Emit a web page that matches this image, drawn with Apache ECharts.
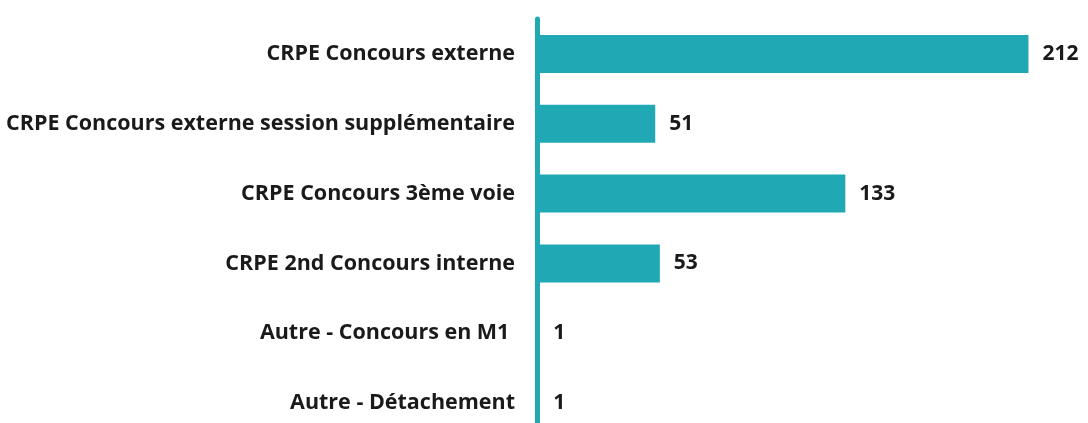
<!DOCTYPE html>
<html>
<head>
<meta charset="utf-8">
<script src="https://cdn.jsdelivr.net/npm/echarts@6/dist/echarts.min.js"></script>
<style>
  html, body { margin: 0; padding: 0; background: #fff; overflow: hidden; }
  #chart { width: 1088px; height: 450px; }
</style>
</head>
<body>
<div id="chart"></div>
<script>
  const categories = [
    'CRPE Concours externe',
    'CRPE Concours externe session supplémentaire',
    'CRPE Concours 3ème voie',
    'CRPE 2nd Concours interne',
    'Autre - Concours en M1 ',
    'Autre - Détachement'
  ];
  const values = [212, 51, 133, 53, 1, 1];

  // the chart is slightly taller than the window so the last band is cut like the original
  const chart = echarts.init(document.getElementById('chart'));

  const option = {
    animation: false,
    grid: { left: 537, top: 19, width: 510, height: 419 },
    xAxis: {
      type: 'value',
      min: 0,
      max: 220,
      show: false
    },
    yAxis: {
      type: 'category',
      data: categories,
      inverse: true,
      axisLine: { show: true, lineStyle: { color: '#20a9b5', width: 5 } },
      axisTick: { show: false },
      axisLabel: {
        margin: 22,
        color: '#1a1a1a',
        fontFamily: 'Open Sans',
        fontWeight: 'bold',
        fontSize: 21.5
      }
    },
    series: [
      {
        type: 'bar',
        data: values,
        barWidth: 38,
        itemStyle: { color: '#20a9b5' },
        label: {
          show: true,
          position: 'right',
          distance: 14,
          color: '#1a1a1a',
          fontFamily: 'Open Sans',
          fontWeight: 'bold',
          fontSize: 21
        }
      }
    ]
  };

  chart.setOption(option);
</script>
</body>
</html>
